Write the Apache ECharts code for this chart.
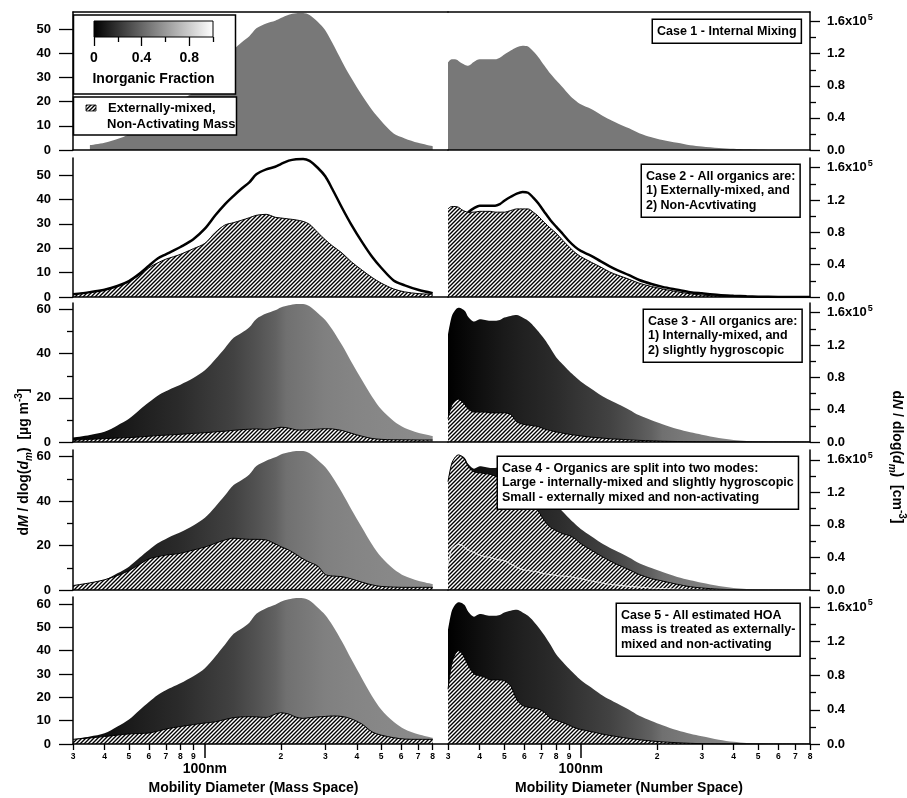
<!DOCTYPE html>
<html>
<head>
<meta charset="utf-8">
<script src="https://cdn.jsdelivr.net/npm/echarts@6/dist/echarts.min.js"></script>
<style>
  html, body { margin: 0; padding: 0; background: #fff; }
  #chart { width: 907px; height: 798px; }
</style>
</head>
<body>
<div id="chart"></div>
<script>
// mass space (left column), dM/dlog(dm) in ug m-3
var massDiam = [30, 35, 40, 45, 50, 55, 60, 65, 70, 75, 80, 90, 100, 110, 120, 130, 140, 150, 160, 175, 190, 200, 215, 230, 245, 260, 280, 300, 320, 350, 380, 420, 460, 500, 560, 620, 700, 800];
var massTotalA = [1.1, 2.0, 3.0, 4.5, 6.5, 9.5, 12.8, 15.8, 17.5, 19.0, 20.5, 23.7, 28.0, 33.5, 38.0, 41.5, 44.5, 47.0, 50.3, 52.3, 53.4, 54.5, 55.9, 56.5, 56.6, 55.8, 53.0, 49.5, 44.3, 36.5, 29.8, 22.5, 16.5, 12.0, 6.8, 4.8, 3.0, 1.6];
var massOrg2 = [1.1, 2.0, 3.0, 4.5, 6.3, 9.0, 12.0, 14.0, 15.5, 16.5, 17.5, 19.8, 22.0, 26.5, 29.5, 30.5, 31.5, 32.5, 33.5, 33.9, 32.7, 32.4, 32.0, 31.6, 31.0, 29.8, 26.5, 23.5, 21.0, 18.0, 14.5, 11.0, 8.0, 5.7, 3.3, 2.1, 1.4, 1.1];
var massTotalB = [2.0, 3.2, 4.6, 7.5, 10.5, 14.5, 18.0, 21.0, 23.0, 24.6, 26.0, 29.0, 32.5, 37.5, 42.5, 47.2, 49.5, 52.0, 55.8, 58.2, 59.7, 61.0, 62.0, 62.6, 62.5, 61.5, 58.5, 55.3, 51.0, 43.8, 36.5, 28.0, 20.5, 14.8, 9.5, 6.3, 4.2, 2.7];
var massOrg3 = [0.8, 1.2, 1.5, 1.8, 2.0, 2.3, 2.6, 2.9, 3.1, 3.3, 3.5, 3.9, 4.2, 4.6, 4.9, 5.3, 5.6, 5.8, 5.9, 5.7, 6.2, 6.7, 6.3, 5.5, 5.4, 5.6, 5.8, 6.0, 5.9, 5.2, 4.0, 2.6, 1.6, 1.2, 1.0, 1.0, 0.9, 0.9];
var massOrg4 = [2.0, 3.2, 4.6, 6.5, 8.7, 11.5, 14.0, 15.0, 15.7, 16.1, 16.5, 18.0, 19.3, 21.0, 22.5, 23.3, 23.0, 22.8, 22.8, 22.5, 20.8, 19.5, 18.0, 16.0, 14.0, 12.5, 10.8, 7.0, 6.3, 6.0, 5.0, 3.5, 2.3, 1.6, 1.3, 1.2, 1.2, 1.2];
var massOrg5 = [2.0, 2.6, 3.2, 3.8, 4.3, 4.5, 4.7, 5.5, 6.4, 7.0, 7.5, 8.3, 9.0, 9.5, 10.5, 11.3, 11.6, 11.7, 11.6, 11.4, 12.8, 13.4, 12.8, 11.5, 11.0, 11.3, 11.6, 11.8, 12.0, 11.8, 10.8, 8.5, 5.2, 3.8, 2.7, 2.1, 2.0, 2.0];

// number space (right column), dN/dlog(dm) in units of 1e5 cm-3
var numDiam = [30, 31, 32, 33, 34, 35, 36, 38, 40, 42, 44, 46, 48, 50, 53, 56, 59, 62, 65, 68, 72, 76, 80, 85, 90, 95, 100, 110, 120, 130, 140, 155, 170, 190, 210, 240, 270, 300, 350, 400, 450, 500, 600, 700, 800];
var numTotalA = [1.09, 1.13, 1.13, 1.11, 1.08, 1.06, 1.05, 1.10, 1.13, 1.13, 1.13, 1.13, 1.15, 1.19, 1.24, 1.28, 1.30, 1.29, 1.23, 1.16, 1.05, 0.95, 0.87, 0.78, 0.69, 0.62, 0.57, 0.51, 0.44, 0.38, 0.33, 0.27, 0.21, 0.16, 0.125, 0.09, 0.06, 0.045, 0.025, 0.015, 0.008, 0.004, 0.001, 0, 0];
var numOrg2 = [1.09, 1.12, 1.12, 1.11, 1.08, 1.06, 1.05, 1.05, 1.06, 1.06, 1.06, 1.05, 1.05, 1.05, 1.07, 1.09, 1.09, 1.09, 1.05, 1.00, 0.92, 0.85, 0.79, 0.70, 0.62, 0.55, 0.50, 0.43, 0.37, 0.31, 0.27, 0.22, 0.17, 0.13, 0.10, 0.065, 0.04, 0.025, 0.01, 0.004, 0.001, 0, 0, 0, 0];
var numTotalB = [1.33, 1.55, 1.63, 1.66, 1.65, 1.62, 1.55, 1.49, 1.52, 1.51, 1.50, 1.50, 1.51, 1.54, 1.56, 1.57, 1.54, 1.50, 1.44, 1.37, 1.27, 1.16, 1.05, 0.96, 0.88, 0.81, 0.75, 0.66, 0.58, 0.52, 0.47, 0.40, 0.33, 0.27, 0.22, 0.16, 0.12, 0.09, 0.05, 0.025, 0.012, 0.006, 0.002, 0, 0];
var numOrg3 = [0.29, 0.45, 0.51, 0.53, 0.50, 0.46, 0.41, 0.37, 0.37, 0.37, 0.36, 0.36, 0.36, 0.36, 0.34, 0.25, 0.22, 0.21, 0.20, 0.19, 0.16, 0.14, 0.125, 0.11, 0.095, 0.085, 0.075, 0.06, 0.05, 0.04, 0.035, 0.027, 0.02, 0.015, 0.01, 0.006, 0.003, 0.001, 0, 0, 0, 0, 0, 0, 0];
var numOrg4 = [1.33, 1.55, 1.63, 1.66, 1.64, 1.60, 1.52, 1.45, 1.44, 1.43, 1.42, 1.40, 1.37, 1.35, 1.30, 1.24, 1.17, 1.10, 1.03, 0.97, 0.85, 0.77, 0.73, 0.69, 0.67, 0.63, 0.57, 0.49, 0.42, 0.36, 0.31, 0.25, 0.19, 0.14, 0.11, 0.07, 0.04, 0.025, 0.01, 0.004, 0.001, 0, 0, 0, 0];
var numSplit4 = [0.30, 0.50, 0.54, 0.56, 0.55, 0.52, 0.49, 0.46, 0.43, 0.41, 0.40, 0.38, 0.37, 0.36, 0.32, 0.28, 0.25, 0.24, 0.23, 0.22, 0.20, 0.19, 0.18, 0.17, 0.165, 0.15, 0.14, 0.11, 0.09, 0.07, 0.06, 0.045, 0.035, 0.025, 0.018, 0.01, 0.005, 0.002, 0, 0, 0, 0, 0, 0, 0];
var numOrg5 = [0.64, 0.93, 1.05, 1.09, 1.06, 1.00, 0.92, 0.82, 0.80, 0.78, 0.75, 0.75, 0.75, 0.74, 0.68, 0.52, 0.45, 0.43, 0.42, 0.41, 0.37, 0.30, 0.28, 0.25, 0.22, 0.19, 0.17, 0.145, 0.12, 0.10, 0.085, 0.065, 0.05, 0.035, 0.025, 0.015, 0.008, 0.004, 0.001, 0, 0, 0, 0, 0, 0];

// inorganic fraction vs size, drives the grey level of the fills
var fracDiam = [30, 40, 50, 60, 80, 100, 130, 160, 190, 210, 250, 300, 400, 800];
var fracVal = [0.00, 0.06, 0.10, 0.13, 0.17, 0.21, 0.26, 0.32, 0.38, 0.44, 0.47, 0.50, 0.52, 0.55];
var case1Frac = 0.47;

// axis ticks
var xTickDiam = [30, 40, 50, 60, 70, 80, 90, 200, 300, 400, 500, 600, 700, 800];
var xTickText = ['3', '4', '5', '6', '7', '8', '9', '2', '3', '4', '5', '6', '7', '8'];
var leftMax = [57, 57, 63, 63, 63];
var leftMajors = [[0, 10, 20, 30, 40, 50], [0, 10, 20, 30, 40, 50], [0, 20, 40, 60], [0, 20, 40, 60], [0, 10, 20, 30, 40, 50, 60]];
var leftMinors = [[], [], [10, 30, 50], [10, 30, 50], []];
var rightMax = 1.72;
var rightMajors = [0, 0.4, 0.8, 1.2, 1.6];
var rightMinors = [0.2, 0.6, 1.0, 1.4];
var cbMajors = [0, 0.4, 0.8];
var cbMinors = [0.2, 0.6, 1.0];

var caseNotes = [
  ['Case 1 - Internal Mixing'],
  ['Case 2 - All organics are:', '1) Externally-mixed, and', '2) Non-Acvtivating'],
  ['Case 3 - All organics are:', '1) Internally-mixed, and', '2) slightly hygroscopic'],
  ['Case 4 - Organics are split into two modes:', 'Large - internally-mixed and slightly hygroscopic', 'Small - externally mixed and non-activating'],
  ['Case 5 - All estimated HOA', 'mass is treated as externally-', 'mixed and non-activating']
];
var casePos = [[653, 20], [642, 165], [644, 310], [498, 457], [617, 604]];

var FONT = "'Liberation Sans', Arial, Helvetica, sans-serif";
var L10 = Math.log10;
var xMin = L10(30);
var xMaxL = L10(920);
var xMaxR = L10(800);
var rowTop = [12, 158, 303, 450, 597];
var rowH = [138, 139, 139, 140, 147];

function grey (f) {
  var g = Math.round(f * 255);
  return 'rgb(' + g + ',' + g + ',' + g + ')';
}

function fracGradient () {
  var span = L10(800) - L10(30);
  let stops = fracDiam.map(function (d, i) {
    return {offset: (L10(d) - L10(30)) / span, color: grey(fracVal[i])};
  });
  return new echarts.graphic.LinearGradient(0, 0, 1, 0, stops);
}

function makeHatch () {
  let c = document.createElement('canvas');
  c.width = 4;
  c.height = 4;
  let ctx = c.getContext('2d');
  ctx.fillStyle = '#fff';
  ctx.fillRect(0, 0, 4, 4);
  ctx.strokeStyle = '#000';
  ctx.lineWidth = 1.4;
  ctx.beginPath();
  ctx.moveTo(-1, 5); ctx.lineTo(5, -1);
  ctx.moveTo(-1, 1); ctx.lineTo(1, -1);
  ctx.moveTo(3, 5); ctx.lineTo(5, 3);
  ctx.stroke();
  return c;
}
var hatchCanvas = makeHatch();
function hatch () {
  return {image: hatchCanvas, repeat: 'repeat'};
}

function xFmt (v) {
  let i = xTickDiam.indexOf(Math.round(Math.pow(10, v)));
  return i >= 0 ? xTickText[i] : '';
}

var tickLine = {color: '#000', width: 1.3};
var grids = [];
var xAxes = [];
var yAxes = [];
var series = [];
var mainX = [];
var mainY = [];

for (let r = 0; r < 5; r++) {
  for (let s = 0; s < 2; s++) {
    let g = grids.length;
    let xMax = s ? xMaxR : xMaxL;
    let bottomRow = r === 4;
    grids.push({left: s ? 448 : 73, width: s ? 362 : 375, top: rowTop[r], height: rowH[r]});

    mainX[g] = xAxes.length;
    xAxes.push({
      gridIndex: g, type: 'value', position: 'bottom', min: xMin, max: xMax, z: 5,
      axisLine: {show: true, onZero: false, lineStyle: {color: '#000', width: 1.5}},
      splitLine: {show: false},
      axisTick: bottomRow ? {show: true, customValues: xTickDiam.map(L10), length: 6, lineStyle: tickLine} : {show: false},
      axisLabel: bottomRow ? {
        show: true, customValues: xTickDiam.map(L10), formatter: xFmt, margin: 8,
        fontSize: 8.5, fontWeight: 'bold', fontFamily: FONT, color: '#000'
      } : {show: false},
      name: bottomRow ? (s ? 'Mobility Diameter (Number Space)' : 'Mobility Diameter (Mass Space)') : '',
      nameLocation: 'middle',
      nameGap: 37,
      nameTextStyle: {fontSize: 14, fontWeight: 'bold', fontFamily: FONT, color: '#000', padding: s ? 0 : [0, 14, 0, 0]}
    });
    if (r === 0) {
      xAxes.push({
        gridIndex: g, type: 'value', position: 'top', min: xMin, max: xMax, z: 5,
        axisLine: {show: true, onZero: false, lineStyle: {color: '#000', width: 1.5}},
        axisTick: {show: false}, axisLabel: {show: false}, splitLine: {show: false}
      });
    }
    if (bottomRow) {
      xAxes.push({
        gridIndex: g, type: 'value', position: 'bottom', min: xMin, max: xMax, z: 5,
        axisLine: {show: false, onZero: false},
        splitLine: {show: false},
        axisTick: {show: true, customValues: [2], length: 14, lineStyle: {color: '#000', width: 1.5}},
        axisLabel: {
          show: true, customValues: [2], formatter: function () { return '100nm'; }, margin: 18,
          fontSize: 14, fontWeight: 'bold', fontFamily: FONT, color: '#000'
        }
      });
    }

    let side = s ? 'right' : 'left';
    let yMax = s ? rightMax : leftMax[r];
    let majors = s ? rightMajors : leftMajors[r];
    let minors = s ? rightMinors : leftMinors[r];
    mainY[g] = yAxes.length;
    yAxes.push({
      gridIndex: g, type: 'value', position: side, min: 0, max: yMax, z: 5,
      axisLine: {show: true, lineStyle: {color: '#000', width: 1.5}},
      splitLine: {show: false},
      axisTick: {show: true, customValues: majors, length: s ? 10 : 14, lineStyle: tickLine},
      axisLabel: {
        customValues: majors,
        formatter: s ? function (v) { return Math.abs(v - 1.6) < 1e-6 ? '1.6x10{sup|5}' : v.toFixed(1); } : function (v) { return String(v); },
        margin: s ? 17 : 22, fontSize: 13, fontWeight: 'bold', fontFamily: FONT, color: '#000', lineHeight: 18,
        rich: {sup: {fontSize: 9, fontWeight: 'bold', fontFamily: FONT, color: '#000', verticalAlign: 'top', lineHeight: 10, padding: [0, 0, 0, 1]}}
      }
    });
    if (minors.length) {
      yAxes.push({
        gridIndex: g, type: 'value', position: side, min: 0, max: yMax, z: 5,
        axisLine: {show: false}, splitLine: {show: false}, axisLabel: {show: false},
        axisTick: {show: true, customValues: minors, length: 6, lineStyle: tickLine}
      });
    }
  }
}

function toXY (diam, vals) {
  return diam.map(function (d, i) { return [L10(d), vals[i]]; });
}
function area (g, diam, vals, fill, outline, z) {
  return {
    type: 'line', xAxisIndex: mainX[g], yAxisIndex: mainY[g], data: toXY(diam, vals),
    showSymbol: false, symbol: 'none', smooth: 0.3, silent: true, z: z,
    lineStyle: outline ? {color: '#000', width: 1} : {opacity: 0},
    areaStyle: {color: fill, opacity: 1}
  };
}
function curve (g, diam, vals, color, width, z) {
  return {
    type: 'line', xAxisIndex: mainX[g], yAxisIndex: mainY[g], data: toXY(diam, vals),
    showSymbol: false, symbol: 'none', smooth: 0.3, silent: true, z: z,
    lineStyle: {color: color, width: width}
  };
}

// case 1
series.push(area(0, massDiam.slice(1), massTotalA.slice(1), grey(case1Frac), false, 2));
series.push(area(1, numDiam, numTotalA, grey(case1Frac), false, 2));
// case 2 (in number space the total line only separates from the hatch above ~36 nm)
series.push(area(2, massDiam, massOrg2, hatch(), true, 3));
series.push(curve(2, massDiam, massTotalA, '#000', 2.5, 4));
series.push(area(3, numDiam, numOrg2, hatch(), true, 3));
series.push(curve(3, numDiam.slice(6), numTotalA.slice(6), '#000', 2.5, 4));
// case 3
series.push(area(4, massDiam, massTotalB, fracGradient(), false, 2));
series.push(area(4, massDiam, massOrg3, hatch(), true, 3));
series.push(area(5, numDiam, numTotalB, fracGradient(), false, 2));
series.push(area(5, numDiam, numOrg3, hatch(), true, 3));
// case 4
series.push(area(6, massDiam, massTotalB, fracGradient(), false, 2));
series.push(area(6, massDiam, massOrg4, hatch(), true, 3));
series.push(area(7, numDiam, numTotalB, fracGradient(), false, 2));
series.push(area(7, numDiam, numOrg4, hatch(), true, 3));
series.push(curve(7, numDiam, numSplit4, 'rgba(255,255,255,0.75)', 1.1, 4));
// case 5
series.push(area(8, massDiam, massTotalB, fracGradient(), false, 2));
series.push(area(8, massDiam, massOrg5, hatch(), true, 3));
series.push(area(9, numDiam, numTotalB, fracGradient(), false, 2));
series.push(area(9, numDiam, numOrg5, hatch(), true, 3));

// colour bar for the inorganic fraction
var cbGrid = grids.length;
grids.push({left: 94, top: 21, width: 119, height: 16});
var cbX = xAxes.length;
xAxes.push({
  gridIndex: cbGrid, type: 'value', min: 0, max: 1, position: 'bottom', z: 120,
  axisLine: {show: false, onZero: false}, splitLine: {show: false},
  axisTick: {show: true, customValues: cbMajors, length: 9, lineStyle: tickLine},
  axisLabel: {
    customValues: cbMajors, formatter: function (v) { return v === 0 ? '0' : v.toFixed(1); },
    margin: 14, fontSize: 14, fontWeight: 'bold', fontFamily: FONT, color: '#000'
  },
  name: 'Inorganic Fraction', nameLocation: 'middle', nameGap: 35,
  nameTextStyle: {fontSize: 14, fontWeight: 'bold', fontFamily: FONT, color: '#000'}
});
xAxes.push({
  gridIndex: cbGrid, type: 'value', min: 0, max: 1, position: 'bottom', z: 120,
  axisLine: {show: false, onZero: false}, splitLine: {show: false}, axisLabel: {show: false},
  axisTick: {show: true, customValues: cbMinors, length: 5, lineStyle: tickLine}
});
var cbY = yAxes.length;
yAxes.push({gridIndex: cbGrid, type: 'value', min: 0, max: 1, show: false});
series.push({
  type: 'custom', xAxisIndex: cbX, yAxisIndex: cbY, z: 110, silent: true,
  data: [[0, 1]],
  renderItem: function (params, api) {
    let p0 = api.coord([0, 0]);
    let p1 = api.coord([1, 1]);
    return {
      type: 'rect',
      shape: {x: p0[0], y: p1[1], width: p1[0] - p0[0], height: p0[1] - p1[1]},
      style: {
        fill: new echarts.graphic.LinearGradient(0, 0, 1, 0, [{offset: 0, color: grey(0)}, {offset: 1, color: grey(1)}]),
        stroke: '#000', lineWidth: 1
      }
    };
  }
});

var graphics = [
  {type: 'rect', z: 100, shape: {x: 73.5, y: 15, width: 162, height: 79}, style: {fill: '#fff', stroke: '#000', lineWidth: 1.5}},
  {type: 'rect', z: 100, shape: {x: 73.5, y: 97, width: 163, height: 38}, style: {fill: '#fff', stroke: '#000', lineWidth: 1.5}},
  {type: 'rect', z: 101, shape: {x: 86, y: 105, width: 10, height: 6}, style: {fill: hatch(), stroke: '#000', lineWidth: 0.8}},
  {type: 'text', z: 101, x: 108, y: 108, style: {text: 'Externally-mixed,', fontSize: 13, fontWeight: 'bold', fontFamily: FONT, fill: '#000', verticalAlign: 'middle'}},
  {type: 'text', z: 101, x: 107, y: 124, style: {text: 'Non-Activating Mass', fontSize: 13, fontWeight: 'bold', fontFamily: FONT, fill: '#000', verticalAlign: 'middle'}},
  {
    type: 'text', z: 101, x: 24, y: 462, rotation: Math.PI / 2,
    style: {
      text: 'd{i|M} / dlog({i|d}{sub|m})  [µg m{sup|-3}]',
      fontSize: 14, fontWeight: 'bold', fontFamily: FONT, fill: '#000', lineHeight: 20,
      align: 'center', verticalAlign: 'middle',
      rich: {
        i: {fontSize: 14, fontWeight: 'bold', fontStyle: 'italic', fontFamily: FONT, lineHeight: 20},
        sub: {fontSize: 10, fontWeight: 'bold', fontStyle: 'italic', fontFamily: FONT, verticalAlign: 'bottom', lineHeight: 12},
        sup: {fontSize: 10, fontWeight: 'bold', fontFamily: FONT, verticalAlign: 'top', lineHeight: 12}
      }
    }
  },
  {
    type: 'text', z: 101, x: 897, y: 457, rotation: -Math.PI / 2,
    style: {
      text: 'd{i|N} / dlog({i|d}{sub|m})  [cm{sup|-3}]',
      fontSize: 14, fontWeight: 'bold', fontFamily: FONT, fill: '#000', lineHeight: 20,
      align: 'center', verticalAlign: 'middle',
      rich: {
        i: {fontSize: 14, fontWeight: 'bold', fontStyle: 'italic', fontFamily: FONT, lineHeight: 20},
        sub: {fontSize: 10, fontWeight: 'bold', fontStyle: 'italic', fontFamily: FONT, verticalAlign: 'bottom', lineHeight: 12},
        sup: {fontSize: 10, fontWeight: 'bold', fontFamily: FONT, verticalAlign: 'top', lineHeight: 12}
      }
    }
  }
];
caseNotes.forEach(function (lines, i) {
  graphics.push({
    type: 'text', z: 100, x: casePos[i][0], y: casePos[i][1],
    style: {
      text: lines.join('\n'), fontSize: 12.5, fontWeight: 'bold', fontFamily: FONT, fill: '#000',
      lineHeight: 14.5, align: 'left', verticalAlign: 'top',
      backgroundColor: '#fff', borderColor: '#000', borderWidth: 1.5, padding: [4, 4, 4, 4]
    }
  });
});

var chart = echarts.init(document.getElementById('chart'));
chart.setOption({
  animation: false,
  backgroundColor: '#fff',
  grid: grids,
  xAxis: xAxes,
  yAxis: yAxes,
  series: series,
  graphic: graphics
});
</script>
</body>
</html>
